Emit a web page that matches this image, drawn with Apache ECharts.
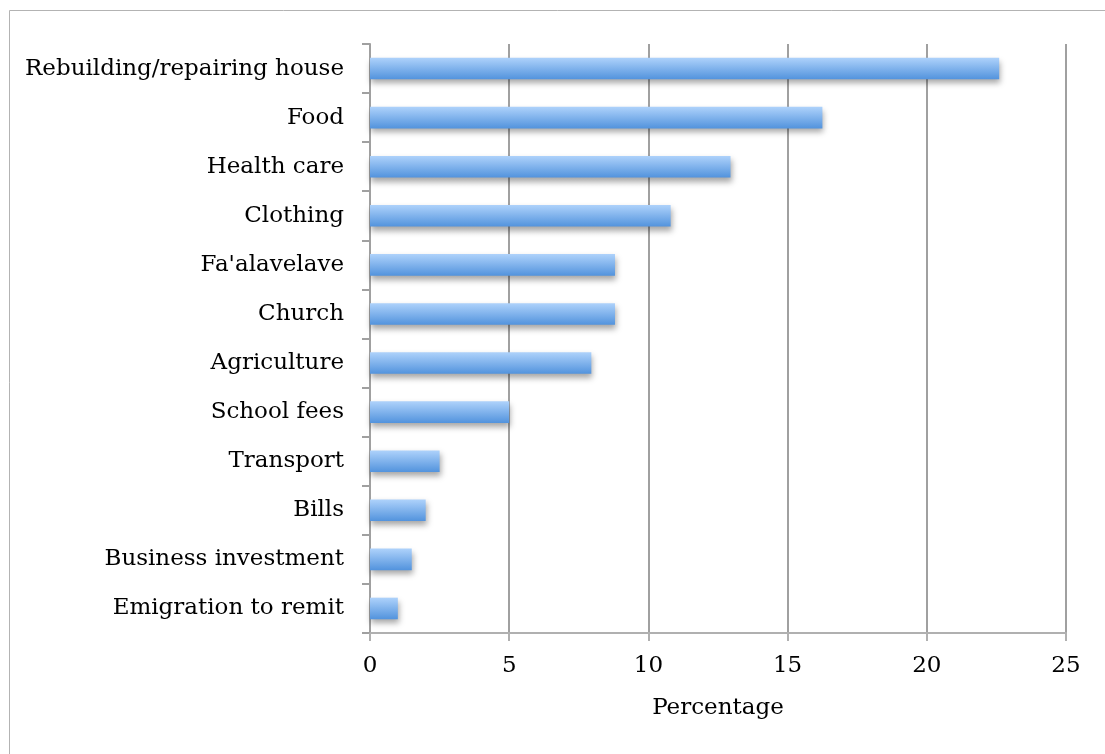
<!DOCTYPE html>
<html><head><meta charset="utf-8">
<script src="https://cdn.jsdelivr.net/npm/echarts@6/dist/echarts.min.js"></script>
<style>html,body{margin:0;padding:0;background:#fff}#c{width:1105px;height:754px}</style>
</head><body><div id="c"></div>
<script>
const categories = ["Rebuilding/repairing house","Food","Health care","Clothing","Fa'alavelave","Church","Agriculture","School fees","Transport","Bills","Business investment","Emigration to remit"];
const values = [22.6, 16.25, 12.95, 10.8, 8.8, 8.8, 7.95, 5.0, 2.5, 2.0, 1.5, 1.0];
const xTicks = [0, 5, 10, 15, 20, 25];
const font = "DejaVu Serif";
const chart = echarts.init(document.getElementById('c'), null, {renderer:'canvas'});
chart.setOption({
  animation:false,
  backgroundColor:'#fff',
  graphic:[{type:'rect', shape:{x:9.5,y:10.5,width:1200,height:900}, style:{fill:'none',stroke:'#b3b3b3',lineWidth:1}}],
  grid:{left:370, right:39, top:44, bottom:121, containLabel:false},
  xAxis:{type:'value', min:xTicks[0], max:xTicks[xTicks.length-1], interval:5,
    name:'Percentage', nameLocation:'middle', nameGap:64,
    nameTextStyle:{fontFamily:font, fontSize:23, color:'#000'},
    axisLine:{show:true, lineStyle:{color:'#b0b0b0', width:2}},
    axisTick:{show:true, length:8, lineStyle:{color:'#b0b0b0', width:2}},
    axisLabel:{fontFamily:font, fontSize:23, color:'#000', margin:22},
    splitLine:{show:true, lineStyle:{color:'#a0a0a0', width:2}}
  },
  yAxis:{type:'category', data:categories, inverse:true,
    axisLine:{show:true, lineStyle:{color:'#a0a0a0', width:2}},
    axisTick:{show:true, length:8, lineStyle:{color:'#a0a0a0', width:2}},
    axisLabel:{fontFamily:font, fontSize:23, color:'#000', margin:26}
  },
  series:[{type:'bar', data:values, barCategoryGap:'56%',
    itemStyle:{color:new echarts.graphic.LinearGradient(0,0,0,1,[{offset:0,color:'#aed2fb'},{offset:1,color:'#5293dd'}]),
      shadowColor:'rgba(0,0,0,0.35)', shadowBlur:6, shadowOffsetX:1, shadowOffsetY:4}
  }]
});
</script></body></html>
